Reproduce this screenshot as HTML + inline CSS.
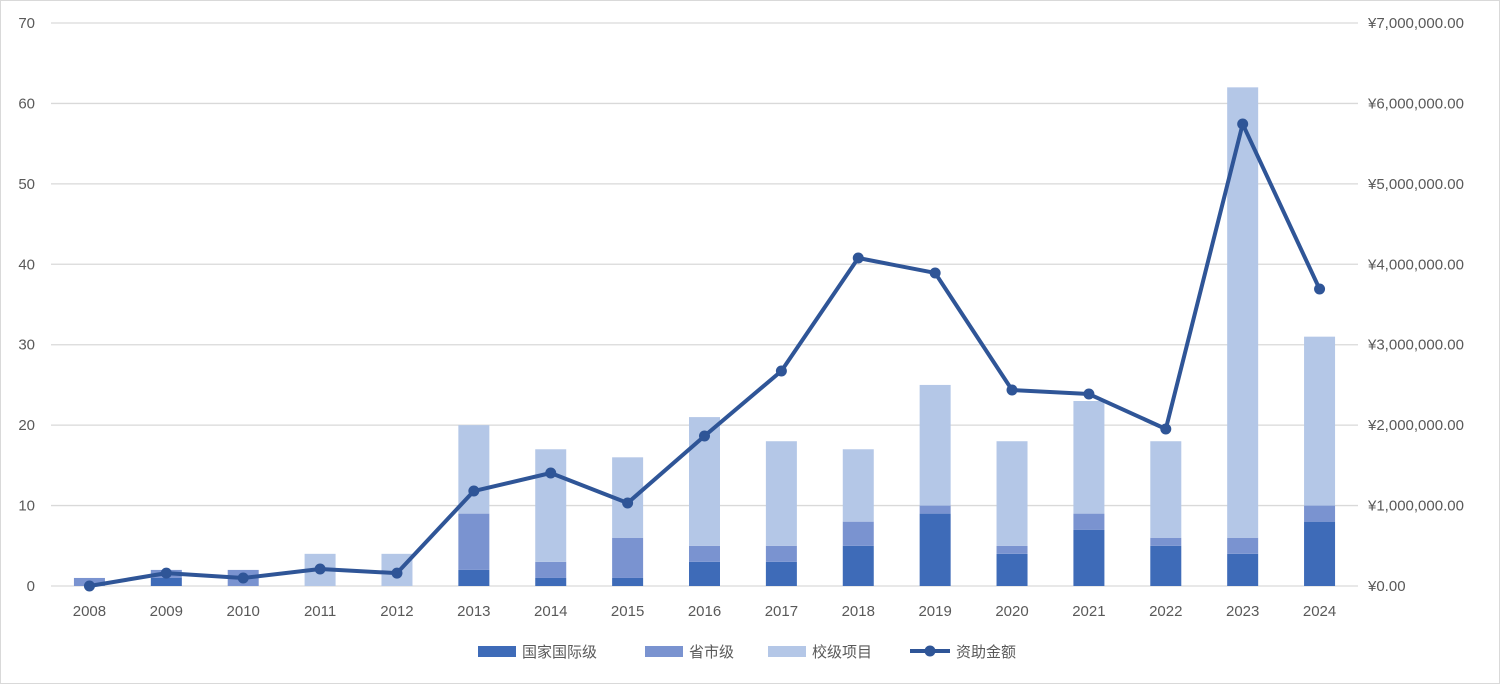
<!DOCTYPE html>
<html><head><meta charset="utf-8"><style>
body{margin:0;background:#fff;}
svg text{font-family:"Liberation Sans","Noto Sans CJK SC",sans-serif;fill:#595959;font-size:15px;}
</style></head><body>
<svg width="1500" height="684" xmlns="http://www.w3.org/2000/svg">
<rect x="0.5" y="0.5" width="1499" height="683" fill="#fff" stroke="#d9d9d9"/>
<g id="grid"></g><g id="bars"></g><g id="line"></g><g id="axes"></g>
<g id="legend"></g>
</svg>
<script>
const years=["2008","2009","2010","2011","2012","2013","2014","2015","2016","2017","2018","2019","2020","2021","2022","2023","2024"];
const national=[0,1,0,0,0,2,1,1,3,3,5,9,4,7,5,4,8];
const provincial=[1,1,2,0,0,7,2,5,2,2,3,1,1,2,1,2,2];
const school=[0,0,0,4,4,11,14,10,16,13,9,15,13,14,12,56,21];
const funding=[0,160000,99000,211000,160000,1181000,1405000,1032000,1865000,2673000,4078000,3892000,2437000,2387000,1952000,5744000,3693000];
const leftTicks=[0,10,20,30,40,50,60,70];
const rightTicks=["¥0.00","¥1,000,000.00","¥2,000,000.00","¥3,000,000.00","¥4,000,000.00","¥5,000,000.00","¥6,000,000.00","¥7,000,000.00"];
const NS="http://www.w3.org/2000/svg";
const y0=586,y1=23,x0=51,x1=1358;
const yL=v=>y0-(v/70)*(y0-y1);
const yR=v=>y0-(v/7000000)*(y0-y1);
const step=(x1-x0)/years.length;
const xC=i=>x0+step*(i+0.5);
function mk(t,a,p){const e=document.createElementNS(NS,t);for(const k in a)e.setAttribute(k,a[k]);p.appendChild(e);return e;}
const G=document.getElementById('grid'),B=document.getElementById('bars'),L=document.getElementById('line'),A=document.getElementById('axes'),LG=document.getElementById('legend');
leftTicks.forEach((v,i)=>{
 const ln=mk('line',{x1:x0,x2:x1,y1:yL(v),y2:yL(v),stroke:'#d9d9d9','stroke-width':1.3},G);
 
 
 const t=mk('text',{x:35,y:yL(v)+5,'text-anchor':'end'},A);t.textContent=v;
 
 
 const r=mk('text',{x:1368,y:yL(v)+5},A);r.textContent=rightTicks[i];
 
 
});
const cols=['#3e6bb8','#7a93d0','#b4c7e7'];
const bw=31;
years.forEach((yr,i)=>{
 let base=0;
 [national,provincial,school].forEach((s,k)=>{
  const v=s[i];if(v>0){
   const r=mk('rect',{x:xC(i)-bw/2,y:yL(base+v),width:bw,height:yL(base)-yL(base+v),fill:cols[k]},B);
   
   
  }
  base+=v;
 });
 const t=mk('text',{x:xC(i),y:616,'text-anchor':'middle'},A);t.textContent=yr;
 
 
});
const pts=funding.map((v,i)=>xC(i)+','+yR(v)).join(' ');
const pl=mk('polyline',{points:pts,fill:'none',stroke:'#2f5597','stroke-width':4,'stroke-linejoin':'round'},L);


funding.forEach((v,i)=>{const c=mk('circle',{cx:xC(i),cy:yR(v),r:5.5,fill:'#2f5597'},L);
 
 });
const leg=[['国家国际级',0,478],['省市级',1,645],['校级项目',2,768]];
leg.forEach(([n,k,x])=>{
 const g=mk('g',{},LG);
 
 
 mk('rect',{x:x,y:646,width:38,height:11,fill:cols[k]},g);
 const t=mk('text',{x:x+44,y:657,'font-size':16},g);t.textContent=n;
});
const g=mk('g',{},LG);


mk('line',{x1:910,x2:950,y1:651,y2:651,stroke:'#2f5597','stroke-width':4},g);
mk('circle',{cx:930,cy:651,r:5.5,fill:'#2f5597'},g);
const t=mk('text',{x:956,y:657,'font-size':16},g);t.textContent='资助金额';
</script>
</body></html>
